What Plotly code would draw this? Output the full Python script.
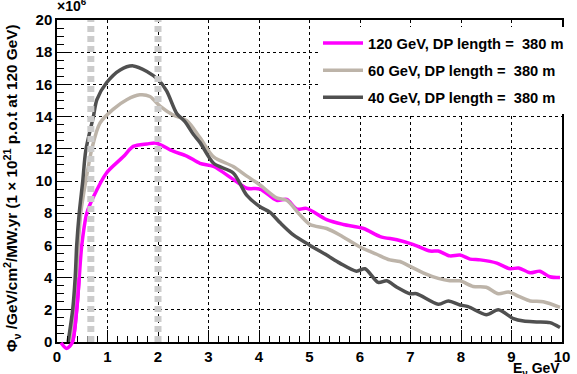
import plotly.graph_objects as go

# ---------------- data (flux in units of 10^6) ----------------
e_120 = [0.08, 0.19, 0.30, 0.39, 0.44, 0.49, 0.59, 0.72, 0.98, 1.31, 1.51, 1.78, 1.97, 2.30, 2.57,
         2.83, 3.10, 3.49, 3.76, 4.02, 4.35, 4.55, 4.75, 4.94, 5.34, 5.67, 6.07, 6.40, 6.73, 7.06,
         7.39, 7.55, 7.78, 7.98, 8.18, 8.38, 8.71, 8.97, 9.14, 9.37, 9.56, 9.76, 9.96]
f_120 = [-0.05, -0.4, -0.05, 2.0, 4.0, 6.0, 8.0, 9.0, 10.5, 11.5, 12.15, 12.3, 12.35, 11.85, 11.55,
         11.1, 10.9, 10.1, 9.55, 9.5, 8.8, 8.85, 8.25, 8.3, 7.6, 7.3, 7.05, 6.55, 6.35, 6.05,
         5.65, 5.65, 5.35, 5.4, 5.15, 5.1, 4.9, 4.55, 4.6, 4.3, 4.4, 4.05, 4.0]

e_60 = [0.25, 0.33, 0.38, 0.42, 0.47, 0.57, 0.69, 0.85, 1.11, 1.38, 1.64, 1.84, 2.04, 2.30, 2.57,
        2.83, 3.10, 3.49, 3.76, 4.02, 4.35, 4.55, 4.81, 5.01, 5.34, 5.60, 6.00, 6.33, 6.59, 6.79,
        6.99, 7.25, 7.55, 7.78, 7.98, 8.24, 8.50, 8.74, 8.94, 9.17, 9.37, 9.63, 9.96]
f_60 = [0.0, 2.0, 4.0, 6.0, 8.0, 10.0, 12.0, 13.6, 14.45, 15.05, 15.35, 15.25, 14.65, 14.1, 13.75,
        12.7, 11.5, 10.9, 10.3, 9.75, 8.95, 8.8, 7.9, 7.3, 7.05, 6.65, 5.9, 5.45, 5.1, 5.0,
        4.7, 4.3, 3.95, 3.8, 3.8, 3.45, 3.4, 3.0, 3.1, 2.8, 2.55, 2.5, 2.15]

e_40 = [0.22, 0.31, 0.36, 0.39, 0.44, 0.51, 0.57, 0.72, 0.79, 0.98, 1.25, 1.51, 1.78, 2.00, 2.17,
        2.37, 2.53, 2.70, 2.83, 3.10, 3.49, 3.76, 4.02, 4.22, 4.42, 4.68, 5.01, 5.34, 5.60, 5.93,
        6.10, 6.36, 6.53, 6.73, 6.99, 7.12, 7.55, 7.75, 7.98, 8.14, 8.50, 8.74, 9.04, 9.24, 9.50,
        9.76, 9.96]
f_40 = [0.0, 2.0, 4.0, 6.0, 8.0, 10.0, 11.9, 14.0, 15.05, 16.1, 16.9, 17.15, 16.8, 16.3, 15.6,
        14.2, 13.7, 12.9, 12.4, 11.1, 10.5, 9.1, 8.4, 8.05, 7.4, 6.65, 6.0, 5.4, 4.9, 4.4,
        4.55, 3.7, 3.8, 3.4, 3.0, 3.0, 2.35, 2.55, 2.3, 2.2, 1.7, 2.0, 1.45, 1.3, 1.25,
        1.2, 0.9]

series_names = ["120 GeV, DP length =\u00a0\u00a0380 m",
                "60 GeV, DP length =\u00a0\u00a0380 m",
                "40 GeV, DP length =\u00a0\u00a0380 m"]
series_colors = ["#ff00ff", "#bdb4a9", "#505050"]

marker_lines = [0.67, 2.0]   # grey dashed reference energies (GeV)

x_range = [0, 10]
y_range = [0, 20]

# ---------------- layout geometry ----------------
W, H = 577, 374
mt, mb, ml, mr = 20, 22, 57, 15
plot_h = H - mt - mb
plot_w = W - ml - mr
ext_px = 10                       # extra room below axis for the negative dip
d = ext_px / plot_h
y2_low = -(y_range[1] - y_range[0]) * d / (1 - d)

FONT = "Liberation Sans"

fig = go.Figure()
for e, f, name, col, grp in [(e_120, f_120, series_names[0], series_colors[0], "a"),
                             (e_60, f_60, series_names[1], series_colors[1], "b"),
                             (e_40, f_40, series_names[2], series_colors[2], "c")]:
    fig.add_trace(go.Scatter(x=e, y=f, mode="lines", name=name, legendgroup=grp,
                             line=dict(color=col, width=3.5, shape="spline", smoothing=0.8),
                             hoverinfo="skip"))

# negative dip of the 120 GeV curve, drawn on an extended invisible axis so it is not clipped
dip_x = [x for x, y in zip(e_120, f_120) if x < 0.45]
dip_y = [y for x, y in zip(e_120, f_120) if x < 0.45]
fig.add_trace(go.Scatter(x=dip_x, y=dip_y, mode="lines", showlegend=False,
                         line=dict(color=series_colors[0], width=3.5, shape="spline", smoothing=0.8),
                         xaxis="x2", yaxis="y2", hoverinfo="skip"))

for xv in marker_lines:
    fig.add_shape(type="line", xref="x", yref="y", x0=xv, x1=xv, y0=y_range[0], y1=y_range[1],
                  line=dict(color="#cccccc", width=7, dash="6px,4px"), layer="above")

axis_common = dict(showline=True, linecolor="black", linewidth=1.5, mirror=True,
                   showgrid=True, gridcolor="black", griddash="dot", gridwidth=1,
                   zeroline=False, ticks="inside", tickcolor="black", tickwidth=1,
                   automargin=False,
                   tickfont=dict(family=FONT, size=15, color="black", weight="bold"))

fig.update_layout(
    width=W, height=H,
    margin=dict(l=ml, r=mr, t=mt, b=mb, autoexpand=False),
    paper_bgcolor="white", plot_bgcolor="rgba(0,0,0,0)",
    xaxis=dict(range=x_range, dtick=1, tick0=0, ticklen=12, anchor="y",
               minor=dict(ticks="inside", ticklen=6, dtick=0.2, tickcolor="black", showgrid=False),
               **axis_common),
    yaxis=dict(range=y_range, dtick=2, tick0=0, ticklen=13, domain=[d, 1], anchor="x",
               minor=dict(ticks="inside", ticklen=7, dtick=0.5, tickcolor="black", showgrid=False),
               **axis_common),
    xaxis2=dict(range=x_range, domain=[0, 1], anchor="y2", visible=False, fixedrange=True),
    yaxis2=dict(range=[y2_low, y_range[1]], domain=[0, 1], anchor="x2", visible=False, fixedrange=True),
    legend=dict(x=(318 - ml) / plot_w, y=1 - (27 - mt) / plot_h, xanchor="left", yanchor="top",
                bgcolor="white", borderwidth=0, itemwidth=40, tracegroupgap=5,
                font=dict(family=FONT, size=14.7, color="black", weight="bold")),
    showlegend=True,
)

ann_font = dict(family=FONT, color="black", weight="bold")
fig.add_annotation(text="\u00d710<sup>6</sup>", xref="paper", yref="paper",
                   x=(55 - ml) / plot_w, y=1 + 4 / plot_h, xanchor="left", yanchor="bottom",
                   showarrow=False, font=dict(size=14, **ann_font))
fig.add_annotation(text="\u03a6<sub>\u03bd</sub> /GeV/cm<sup>2</sup>/MW.yr (1 \u00d7 10<sup>21</sup> p.o.t at 120 GeV)",
                   xref="paper", yref="paper", x=(12 - ml) / plot_w, y=1 - (22 - mt) / plot_h,
                   xanchor="center", yanchor="top",
                   textangle=-90, showarrow=False, font=dict(size=15.3, **ann_font))
fig.add_annotation(text="E<sub>\u03bd</sub> GeV", xref="paper", yref="paper",
                   x=1.0, y=-(358 - mt - plot_h) / plot_h, xanchor="right", yanchor="top",
                   showarrow=False, font=dict(size=14, **ann_font))
fig.add_annotation(text="LBNE Flux (FHC), p.o.t scaling, horn focusing", xref="paper", yref="paper",
                   x=(215 - ml) / plot_w, y=1 + 19 / plot_h, xanchor="center", yanchor="bottom",
                   showarrow=False, font=dict(size=14, **ann_font))

fig.write_html("out.html")
